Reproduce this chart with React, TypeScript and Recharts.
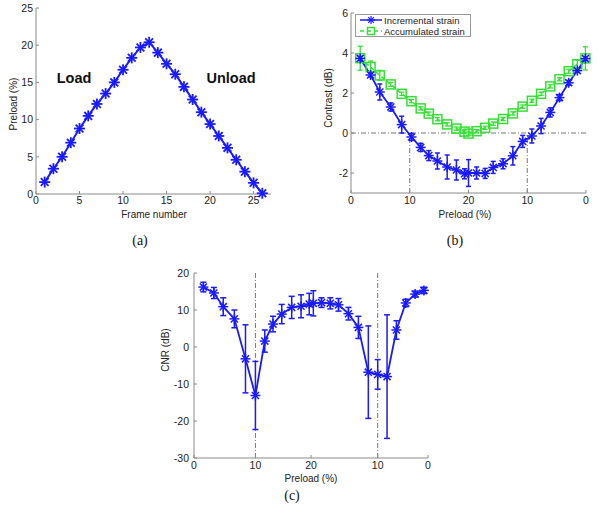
import React from 'react';
import { LineChart, Line, XAxis, YAxis, ErrorBar, ReferenceLine } from 'recharts';

// ---------- data ----------
const frames = [1, 2, 3, 4, 5, 6, 7, 8, 9, 10, 11, 12, 13, 14, 15, 16, 17, 18, 19, 20, 21, 22, 23, 24, 25, 26];
const preload = [1.6, 3.4, 5.0, 6.9, 8.8, 10.5, 12.1, 13.5, 15.0, 16.7, 18.3, 19.7, 20.4, 19.0, 17.5, 16.1, 14.4, 12.7, 11.0, 9.4, 7.8, 6.2, 4.6, 3.0, 1.5, 0.1];

const incrementalContrast = [3.73, 2.9, 2.05, 1.3, 0.42, -0.2, -0.72, -1.13, -1.4, -1.7, -1.85, -2.04, -2.0, -2.0, -2.02, -1.72, -1.54, -1.14, -0.42, -0.15, 0.35, 1.03, 1.77, 2.51, 3.12, 3.72];
const incrementalErr = [0.1, 0.1, 0.4, 0.2, 0.42, 0.17, 0.2, 0.25, 0.4, 0.6, 0.5, 0.25, 0.67, 0.3, 0.25, 0.3, 0.25, 0.46, 0.3, 0.35, 0.38, 0.23, 0.15, 0.12, 0.08, 0.1];
const accumulatedContrast = [3.74, 3.3, 2.88, 2.43, 1.96, 1.59, 1.23, 0.97, 0.69, 0.43, 0.22, 0.07, -0.03, 0.09, 0.26, 0.47, 0.7, 0.98, 1.32, 1.61, 1.96, 2.33, 2.69, 3.09, 3.44, 3.73];
const accumulatedErr = [0.6, 0.3, 0.25, 0.1, 0.08, 0.08, 0.08, 0.08, 0.08, 0.08, 0.08, 0.08, 0.08, 0.08, 0.08, 0.08, 0.08, 0.08, 0.08, 0.08, 0.08, 0.08, 0.08, 0.1, 0.2, 0.58];

const cnr = [16.2, 14.6, 10.9, 7.6, -3.2, -13.1, 1.6, 6.2, 8.9, 10.7, 11.0, 11.6, 11.8, 12.0, 11.8, 11.4, 9.0, 5.3, -6.8, -7.4, -8.0, 4.6, 11.9, 14.3, 15.3];
const cnrErr = [1.3, 1.5, 2.4, 2.4, 9.2, 9.2, 3.0, 2.1, 2.6, 3.0, 3.1, 2.9, 3.4, 1.3, 1.5, 1.7, 1.7, 3.0, 12.5, 4.0, 16.7, 2.5, 1.0, 0.8, 0.85];

const aTicks = [0, 5, 10, 15, 20, 25];
const bXTicks = [0, 10, 20, 30, 40];
const bYTicks = [-2, 0, 2, 4, 6];
const cYTicks = [-30, -20, -10, 0, 10, 20];
const preloadTickLabels = ['0', '10', '20', '10', '0'];

// ---------- derived tables ----------
const peak = Math.max(...preload);
const peakIdx = preload.indexOf(peak);
const posB = preload.map((p, i) => (i <= peakIdx ? (p / peak) * 20 : 40 - (p / peak) * 20));
const posC = cnr.map((_, i) => (i <= peakIdx ? preload[i] : 2 * peak - preload[i]));
const cXTicks = [0, posC[5], 20, posC[19], 40];

const dataA = frames.map((f, i) => ({ frame: f, preload: preload[i] }));
const dataB = frames.map((_, i) => ({
  pos: posB[i],
  inc: incrementalContrast[i],
  incErr: incrementalErr[i],
  acc: accumulatedContrast[i],
  accErr: accumulatedErr[i],
}));
const dataC = cnr.map((v, i) => ({ pos: posC[i], cnr: v, cnrErr: cnrErr[i] }));

// ---------- styles ----------
const BLUE = '#1a1aff';
const GREEN = '#33e033';
const AXIS = '#8a8a8a';
const TXT = '#222';
const FONT = "'Liberation Sans', Arial, sans-serif";
const tickStyle = { fontSize: 10.5, fill: TXT, fontFamily: FONT };
const REF = '#777';
const DASHDOT = '5 2 1 2';

const star = (r: number, color: string, sw: number) => (props: any) => {
  const { cx, cy, index } = props;
  if (cx == null || cy == null) return <g key={`n-${index}`} />;
  const d = r * 0.7071;
  return (
    <g key={`st-${index}`} stroke={color} strokeWidth={sw}>
      <line x1={cx - r} y1={cy} x2={cx + r} y2={cy} />
      <line x1={cx} y1={cy - r} x2={cx} y2={cy + r} />
      <line x1={cx - d} y1={cy - d} x2={cx + d} y2={cy + d} />
      <line x1={cx - d} y1={cy + d} x2={cx + d} y2={cy - d} />
    </g>
  );
};

const square = (s: number, color: string) => (props: any) => {
  const { cx, cy, index } = props;
  if (cx == null || cy == null) return <g key={`n-${index}`} />;
  return (
    <rect key={`sq-${index}`} x={cx - s / 2} y={cy - s / 2} width={s} height={s} fill="none" stroke={color} strokeWidth={1.5} />
  );
};

const frameAxes = (xDomain: number[], xTicks: number[], yDomain: number[], yTicks: number[]) => [
  <XAxis
    key="xt"
    xAxisId="t"
    orientation="top"
    type="number"
    height={0}
    domain={xDomain}
    ticks={xTicks}
    tickFormatter={() => ''}
    tickSize={-3}
    axisLine={{ stroke: AXIS }}
    tickLine={{ stroke: AXIS }}
  />,
  <YAxis
    key="yr"
    yAxisId="r"
    orientation="right"
    type="number"
    width={0}
    domain={yDomain}
    ticks={yTicks}
    tickFormatter={() => ''}
    tickSize={-3}
    axisLine={{ stroke: AXIS }}
    tickLine={{ stroke: AXIS }}
  />,
];

const boxStyle = (left: number, top: number): React.CSSProperties => ({ position: 'absolute', left, top });

export default function App() {
  return (
    <div style={{ position: 'absolute', left: 0, top: 0, width: 600, height: 520, background: '#fff', fontFamily: FONT }}>
      {/* (a) */}
      <div style={boxStyle(0, 0)}>
        <LineChart width={300} height={230} data={dataA} margin={{ top: 8, right: 29, bottom: 6, left: 0 }}>
          <XAxis
            dataKey="frame"
            type="number"
            domain={[0, 27]}
            ticks={aTicks}
            height={30}
            tick={tickStyle}
            tickSize={-3}
            tickMargin={6}
            axisLine={{ stroke: AXIS }}
            tickLine={{ stroke: AXIS }}
          />
          <YAxis
            type="number"
            domain={[0, 25]}
            ticks={aTicks}
            width={36}
            tick={tickStyle}
            tickSize={-3}
            tickMargin={6}
            axisLine={{ stroke: AXIS }}
            tickLine={{ stroke: AXIS }}
          />
          {frameAxes([0, 27], aTicks, [0, 25], aTicks)}
          <Line
            type="linear"
            dataKey="preload"
            stroke={BLUE}
            strokeWidth={2}
            dot={star(5.5, BLUE, 1.8)}
            activeDot={false}
            isAnimationActive={false}
          />
        </LineChart>
      </div>

      {/* (b) */}
      <div style={boxStyle(300, 0)}>
        <LineChart width={300} height={230} data={dataB} margin={{ top: 13, right: 14, bottom: 7, left: 0 }}>
          <XAxis
            dataKey="pos"
            type="number"
            domain={[0, 40]}
            ticks={bXTicks}
            tickFormatter={(_v: number, i: number) => preloadTickLabels[i]}
            height={30}
            tick={tickStyle}
            tickSize={-3}
            tickMargin={7}
            axisLine={{ stroke: AXIS }}
            tickLine={{ stroke: AXIS }}
          />
          <YAxis
            type="number"
            domain={[-3, 6]}
            ticks={bYTicks}
            width={51}
            tick={tickStyle}
            tickSize={-3}
            tickMargin={6}
            axisLine={{ stroke: AXIS }}
            tickLine={{ stroke: AXIS }}
          />
          {frameAxes([0, 40], bXTicks, [-3, 6], bYTicks)}
          <ReferenceLine y={0} stroke={REF} strokeDasharray={DASHDOT} />
          <ReferenceLine segment={[{ x: bXTicks[1], y: -3 }, { x: bXTicks[1], y: 0 }]} stroke={REF} strokeDasharray={DASHDOT} />
          <ReferenceLine segment={[{ x: bXTicks[3], y: -3 }, { x: bXTicks[3], y: 0 }]} stroke={REF} strokeDasharray={DASHDOT} />
          <Line
            type="linear"
            dataKey="acc"
            stroke={GREEN}
            strokeWidth={1.5}
            strokeDasharray="4 3"
            dot={square(9, GREEN)}
            activeDot={false}
            isAnimationActive={false}
          >
            <ErrorBar dataKey="accErr" direction="y" width={2.5} stroke={GREEN} strokeWidth={1.3} />
          </Line>
          <Line
            type="linear"
            dataKey="inc"
            stroke={BLUE}
            strokeWidth={1.8}
            dot={star(5, BLUE, 1.5)}
            activeDot={false}
            isAnimationActive={false}
          >
            <ErrorBar dataKey="incErr" direction="y" width={2.5} stroke={BLUE} strokeWidth={1.5} />
          </Line>
        </LineChart>
      </div>

      {/* (c) */}
      <div style={boxStyle(150, 240)}>
        <LineChart width={300} height={280} data={dataC} margin={{ top: 33, right: 22, bottom: 32, left: 0 }}>
          <XAxis
            dataKey="pos"
            type="number"
            domain={[0, 40]}
            ticks={cXTicks}
            tickFormatter={(_v: number, i: number) => preloadTickLabels[i]}
            height={30}
            tick={tickStyle}
            tickSize={-3}
            tickMargin={7}
            axisLine={{ stroke: AXIS }}
            tickLine={{ stroke: AXIS }}
          />
          <YAxis
            type="number"
            domain={[-30, 20]}
            ticks={cYTicks}
            width={44}
            tick={tickStyle}
            tickSize={-3}
            tickMargin={8}
            axisLine={{ stroke: AXIS }}
            tickLine={{ stroke: AXIS }}
          />
          {frameAxes([0, 40], cXTicks, [-30, 20], cYTicks)}
          <ReferenceLine x={cXTicks[1]} stroke={REF} strokeDasharray={DASHDOT} />
          <ReferenceLine x={cXTicks[3]} stroke={REF} strokeDasharray={DASHDOT} />
          <Line
            type="linear"
            dataKey="cnr"
            stroke={BLUE}
            strokeWidth={1.8}
            dot={star(5, BLUE, 1.5)}
            activeDot={false}
            isAnimationActive={false}
          >
            <ErrorBar dataKey="cnrErr" direction="y" width={3} stroke={BLUE} strokeWidth={1.5} />
          </Line>
        </LineChart>
      </div>

      {/* text overlay: titles, annotations, legend, captions */}
      <svg width={600} height={520} style={{ position: 'absolute', left: 0, top: 0, pointerEvents: 'none' }}>
        <g fontFamily={FONT} fill={TXT} fontSize={10}>
          <text x={74} y={78} fontSize={14.5} fontWeight="bold" textAnchor="middle" dominantBaseline="central" fill="#111">Load</text>
          <text x={231} y={78} fontSize={14.5} fontWeight="bold" textAnchor="middle" dominantBaseline="central" fill="#111">Unload</text>

          <text x={13} y={104} textAnchor="middle" dominantBaseline="central" transform="rotate(-90 13 104)">Preload (%)</text>
          <text x={154} y={214} textAnchor="middle" dominantBaseline="central">Frame number</text>

          <text x={328} y={98} textAnchor="middle" dominantBaseline="central" transform="rotate(-90 328 98)">Contrast (dB)</text>
          <text x={465} y={214} textAnchor="middle" dominantBaseline="central">Preload (%)</text>

          <text x={165} y={350} textAnchor="middle" dominantBaseline="central" transform="rotate(-90 165 350)">CNR (dB)</text>
          <text x={311} y={478} textAnchor="middle" dominantBaseline="central">Preload (%)</text>

          {/* legend */}
          <rect x={355.5} y={14.5} width={115} height={22} fill="#fff" stroke="#999" strokeWidth={1} />
          <line x1={360} y1={20} x2={382} y2={20} stroke={BLUE} strokeWidth={1.5} />
          {star(4, BLUE, 1.2)({ cx: 371, cy: 20, index: 'lg1' })}
          <text x={384} y={20} fontSize={9.5} dominantBaseline="central">Incremental strain</text>
          <line x1={360} y1={31} x2={382} y2={31} stroke={GREEN} strokeWidth={1.5} strokeDasharray="4 3" />
          {square(7, GREEN)({ cx: 371, cy: 31, index: 'lg2' })}
          <text x={384} y={31} fontSize={9.5} dominantBaseline="central">Accumulated strain</text>
        </g>
        <g fontFamily="'Liberation Serif', 'DejaVu Serif', serif" fontSize={14} fill="#111">
          <text x={140} y={240} textAnchor="middle" dominantBaseline="central">(a)</text>
          <text x={455} y={240} textAnchor="middle" dominantBaseline="central">(b)</text>
          <text x={292} y={495} textAnchor="middle" dominantBaseline="central">(c)</text>
        </g>
      </svg>
    </div>
  );
}
